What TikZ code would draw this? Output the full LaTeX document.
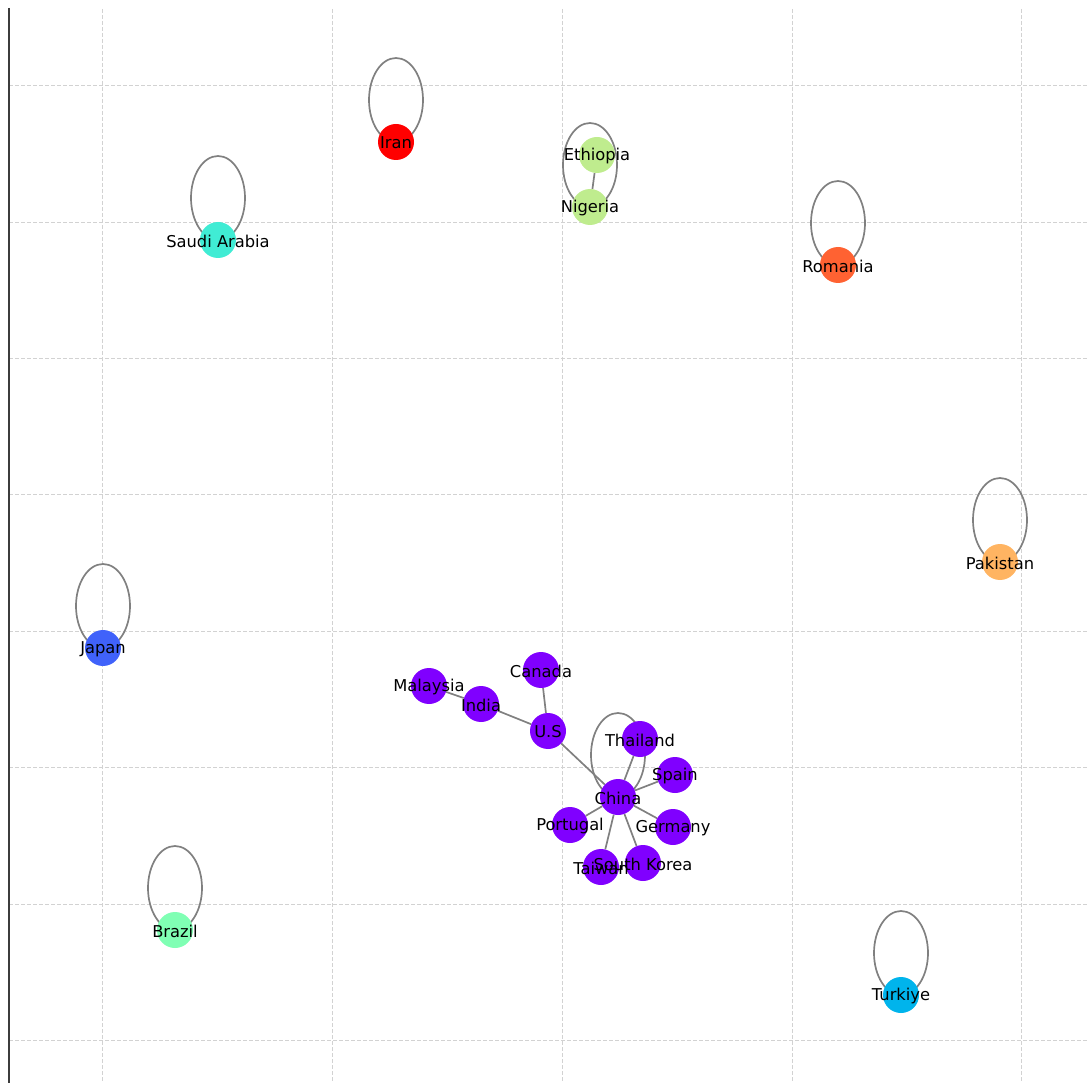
\documentclass[tikz,border=0pt]{standalone}
\usepackage{fontspec}
\setmainfont{DejaVu Sans}
\usetikzlibrary{calc}
\definecolor{cpurple}{RGB}{128,0,255}
\definecolor{cblue}{RGB}{64,98,250}
\definecolor{csky}{RGB}{0,180,236}
\definecolor{cteal}{RGB}{64,236,212}
\definecolor{cmint}{RGB}{128,255,180}
\definecolor{clime}{RGB}{191,236,142}
\definecolor{corange}{RGB}{255,180,98}
\definecolor{cvermil}{RGB}{255,98,50}
\definecolor{cred}{RGB}{255,0,0}
\definecolor{edgegray}{RGB}{128,128,128}
\definecolor{gridgray}{RGB}{210,210,210}
\definecolor{spinegray}{RGB}{60,60,60}
\pgfdeclarelayer{bg}
\pgfdeclarelayer{edges}
\pgfsetlayers{bg,edges,main}
\tikzset{
  country/.style  = {circle, draw=none, minimum size=36pt, inner sep=0pt},
  lbl/.style      = {font=\fontsize{16.3}{19}\selectfont, text=black, inner sep=0pt, yshift=-1pt},
  link/.style     = {draw=edgegray, line width=1.7pt},
  selfloop/.style = {draw=edgegray, line width=1.7pt},
  gridline/.style = {draw=gridgray, line width=0.8pt, dash pattern=on 4pt off 2pt},
}

\begin{document}
\begin{tikzpicture}[x=1pt, y=-1pt]
  \useasboundingbox (0,0) rectangle (1088,1083);
  % grid and axis
  \begin{pgfonlayer}{bg}
    \foreach \x in {102,332,562,792,1021} {
      \draw[gridline] (\x,9) -- (\x,1083);
    }
    \foreach \y in {85,222,358,494,631,767,904,1040} {
      \draw[gridline] (9,\y) -- (1088,\y);
    }
    \draw[spinegray, line width=2pt] (9,8) -- (9,1083);
  \end{pgfonlayer}
  % main component
  \foreach \n/\x/\y in {malaysia/429/686, india/481/704, canada/541/670, us/548/731,
                        thailand/640/739, spain/675/775, china/618/797, portugal/570/825,
                        germany/673/827, taiwan/601/867, skorea/643/863} {
    \node[country, fill=cpurple] (\n) at (\x,\y) {};
  }
  % small components
  \node[country, fill=cred] (iran) at (396,142) {};
  \node[country, fill=clime] (ethiopia) at (597,155) {};
  \node[country, fill=clime] (nigeria) at (590,207) {};
  \node[country, fill=cteal] (saudi) at (218,240) {};
  \node[country, fill=cvermil] (romania) at (838,265) {};
  \node[country, fill=corange] (pakistan) at (1000,562) {};
  \node[country, fill=cblue] (japan) at (103,648) {};
  \node[country, fill=cmint] (brazil) at (175,930) {};
  \node[country, fill=csky] (turkiye) at (901,995) {};
  % edges
  \begin{pgfonlayer}{edges}
    \foreach \a/\b in {malaysia/india, india/us, canada/us, us/china, china/thailand,
                       china/spain, china/portugal, china/germany, china/taiwan,
                       china/skorea, ethiopia/nigeria} {
      \draw[link] (\a) -- (\b);
    }
    \foreach \n in {iran, nigeria, saudi, romania, pakistan, japan, brazil, turkiye, china} {
      \draw[selfloop] ($(\n)+(0,-42)$) ellipse [x radius=27, y radius=42];
    }
  \end{pgfonlayer}
  % labels
  \foreach \n/\t in {malaysia/Malaysia, india/India, canada/Canada, us/U.S,
                     thailand/Thailand, spain/Spain, china/China, portugal/Portugal,
                     germany/Germany, taiwan/Taiwan, skorea/South Korea, iran/Iran,
                     ethiopia/Ethiopia, nigeria/Nigeria, saudi/Saudi Arabia,
                     romania/Romania, pakistan/Pakistan, japan/Japan, brazil/Brazil,
                     turkiye/Turkiye} {
    \node[lbl] (\n-t) at (\n) {\t};
  }
\end{tikzpicture}
\end{document}
